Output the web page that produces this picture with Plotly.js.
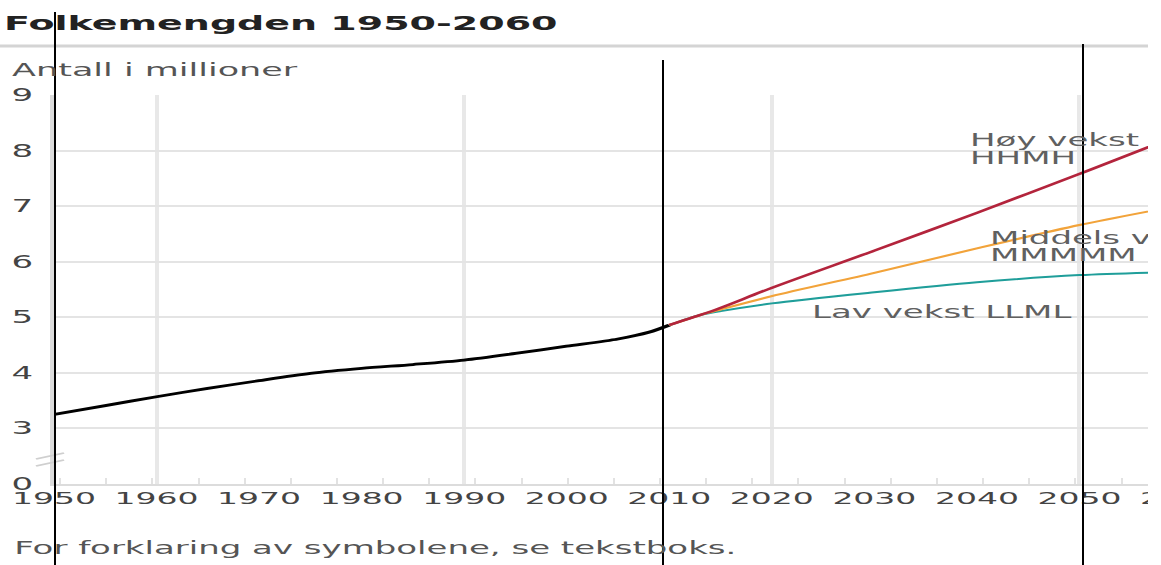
<!DOCTYPE html>
<html>
<head>
<meta charset="utf-8">
<script src="https://cdn.plot.ly/plotly-3.0.1.min.js"></script>
<style>
  html, body { margin: 0; padding: 0; background: #fff; }
  #wrap { width: 574px; height: 565px; overflow: hidden; transform: scaleX(2); transform-origin: 0 0; }
  #chart { width: 600px; height: 565px; }
</style>
</head>
<body>
<div id="wrap"><div id="chart"></div></div>
<script>
// ---- data (millions) ----
const histYears = [1950, 1955, 1960, 1965, 1970, 1975, 1980, 1985, 1990, 1995, 2000, 2005, 2008, 2010];
const histPop   = [3.25, 3.41, 3.57, 3.72, 3.86, 3.99, 4.08, 4.15, 4.23, 4.35, 4.48, 4.61, 4.73, 4.86];
const projYears = [2010, 2013, 2015, 2020, 2030, 2040, 2050, 2060];
const highHHMH  = [4.86, 5.04, 5.17, 5.53, 6.20, 6.88, 7.58, 8.30];
const midMMMM   = [4.86, 5.04, 5.14, 5.38, 5.80, 6.24, 6.66, 7.02];
const lowLLML   = [4.86, 5.04, 5.11, 5.25, 5.45, 5.63, 5.76, 5.82];
const xTickYears = [1950, 1960, 1970, 1980, 1990, 2000, 2010, 2020, 2030, 2040, 2050, 2060];
const gridYears  = [1960, 1990, 2020, 2050];
const yTickVals  = [2, 3, 4, 5, 6, 7, 8, 9];
const yTickText  = ['0', '3', '4', '5', '6', '7', '8', '9'];
const titleText  = 'Folkemengden 1950-2060';
const yTitleText = 'Antall i millioner';
const noteText   = 'For forklaring av symbolene, se tekstboks.';

// ---- geometry (unscaled; the wrapper is stretched 2x horizontally) ----
const W = 600, H = 565, ML = 27, MR = 9, MT = 95, MB = 81;
const PW = W - ML - MR, PH = H - MT - MB;
const xp = sx => (sx / 2 - ML) / PW;   // stretched px -> paper x
const yp = sy => (H - MB - sy) / PH;    // px -> paper y

const FONT = 'DejaVu Sans';
const XR = [1950, 2060];

const traces = [
  { x: histYears, y: histPop, mode: 'lines', line: { color: '#000000', width: 2.8, shape: 'spline', smoothing: 0.8 }, hoverinfo: 'skip', showlegend: false },
  { x: projYears, y: lowLLML, mode: 'lines', line: { color: '#1f9e9a', width: 2, shape: 'spline', smoothing: 0.8 }, hoverinfo: 'skip', showlegend: false },
  { x: projYears, y: midMMMM, mode: 'lines', line: { color: '#f2a33a', width: 2, shape: 'spline', smoothing: 0.8 }, hoverinfo: 'skip', showlegend: false },
  { x: projYears, y: highHHMH, mode: 'lines', line: { color: '#b3243c', width: 2.3, shape: 'spline', smoothing: 0.8 }, hoverinfo: 'skip', showlegend: false },
  { x: [], y: [], xaxis: 'x2', mode: 'lines', hoverinfo: 'skip', showlegend: false }
];

function ann(text, sx, sy, size, color) {
  return { text: text, xref: 'paper', yref: 'paper', x: xp(sx), y: yp(sy), xanchor: 'left', yanchor: 'middle',
           showarrow: false, font: { family: FONT, size: size, color: color }, borderpad: 0 };
}
function vline(sx, syTop, syBot, color, width) {
  return { type: 'line', xref: 'paper', yref: 'paper', x0: xp(sx), x1: xp(sx), y0: yp(syTop), y1: yp(syBot), line: { color: color, width: width } };
}
function seg(sx0, sy0, sx1, sy1, color, width) {
  return { type: 'line', xref: 'paper', yref: 'paper', x0: xp(sx0), x1: xp(sx1), y0: yp(sy0), y1: yp(sy1), line: { color: color, width: width } };
}

const layout = {
  width: W, height: H, autosize: false,
  margin: { l: ML, r: MR, t: MT, b: MB, pad: 0 },
  paper_bgcolor: '#ffffff', plot_bgcolor: '#ffffff',
  font: { family: FONT, color: '#444' },
  title: { text: '<b>' + titleText + '</b>', xref: 'container', yref: 'container', x: 2 / W, xanchor: 'left', y: 1 - 23 / H, yanchor: 'middle',
           font: { family: FONT, size: 19, color: '#222' } },
  xaxis: {
    range: XR, tickmode: 'array', tickvals: xTickYears, ticktext: xTickYears.map(String),
    showgrid: false, zeroline: false, showline: true, linecolor: '#dcdcdc', linewidth: 2,
    ticks: '', tickfont: { family: FONT, size: 16.5, color: '#444' }, ticklabelstandoff: -2,
    ticklabeloverflow: 'allow', fixedrange: true
  },
  xaxis2: {
    range: XR, overlaying: 'x', anchor: 'y', side: 'bottom',
    tickmode: 'linear', tick0: 2000.1, dtick: 4.5, ticks: 'inside', ticklen: 6, tickwidth: 1, tickcolor: '#e2e2e2',
    showticklabels: false, showline: false, zeroline: false,
    showgrid: false, fixedrange: true,
    minor: { tickmode: 'array', tickvals: gridYears, showgrid: true, gridcolor: '#e8e8e8', gridwidth: 2, ticks: '' }
  },
  yaxis: {
    range: [2, 9], tickmode: 'array', tickvals: yTickVals, ticktext: yTickText,
    showgrid: true, gridcolor: '#e4e4e4', gridwidth: 2, zeroline: false,
    showline: true, linecolor: '#dcdcdc', linewidth: 2,
    ticks: '', tickfont: { family: FONT, size: 17, color: '#444' }, ticklabelstandoff: 5,
    ticklabeloverflow: 'allow', fixedrange: true
  },
  annotations: [
    ann(yTitleText, 10, 70, 17.5, '#555'),
    ann('Høy vekst', 968, 140, 17, '#606060'),
    ann('HHMH', 968, 157.5, 17, '#606060'),
    ann('Middels vekst', 988, 238, 17, '#606060'),
    ann('MMMMM', 988, 255, 17, '#606060'),
    ann('Lav vekst LLML', 809, 312, 17, '#606060'),
    ann(noteText, 11, 548, 17, '#555')
  ],
  shapes: [
    seg(0, 46, 1148, 46, '#d4d4d4', 3),
    seg(36, 459, 64, 453, '#cfcfcf', 1.5),
    seg(36, 466, 64, 460, '#cfcfcf', 1.5),
    vline(55, 12, 565, '#000000', 1),
    vline(663, 60, 565, '#000000', 1),
    vline(1083, 44, 565, '#000000', 1)
  ]
};

Plotly.newPlot('chart', traces, layout, { displayModeBar: false, staticPlot: true, responsive: false });
</script>
</body>
</html>
